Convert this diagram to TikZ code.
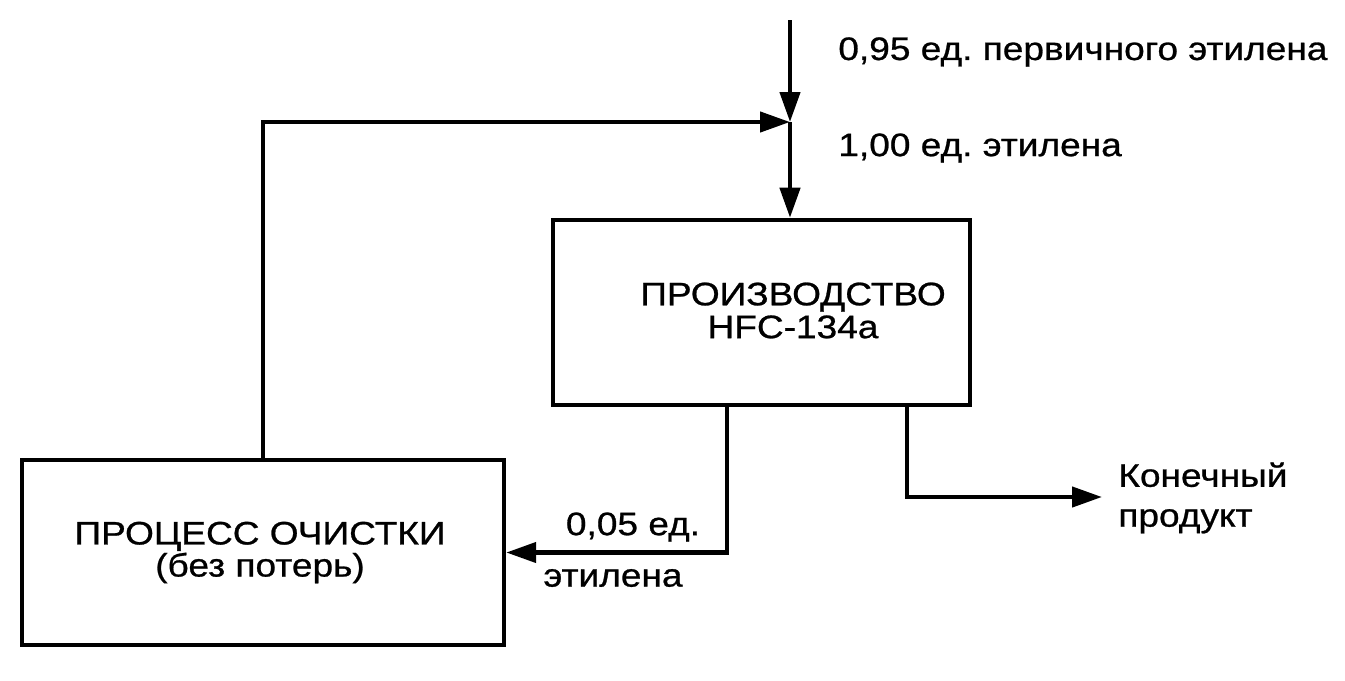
\documentclass[tikz,border=0pt]{standalone}
\usepackage{fontspec}
\setmainfont{Liberation Sans}[FakeStretch=1.14,FakeBold=0.8]
\usepackage{tikz}
\usetikzlibrary{arrows.meta,positioning,calc}
\definecolor{InkBlack}{HTML}{000000}
\frenchspacing
\tikzset{
  flowbox/.style={draw=InkBlack,line width=2.6pt,fill=white,inner sep=0pt,minimum height=3.7cm},
  boxtext/.style={align=center,font=\fontsize{18.5}{18.7}\selectfont,inner sep=0pt},
  flowarrow/.style={-{Triangle[length=0.6cm,width=0.4cm]},line width=2.5pt,draw=InkBlack},
  flowlabel/.style={font=\fontsize{18.5}{22.7}\selectfont,inner sep=0pt,align=left}
}
\begin{document}
\begin{tikzpicture}[x=0.02cm,y=-0.02cm]
\useasboundingbox (0,0) rectangle (1345,680);
% boxes
\node[flowbox,minimum width=8.34cm] (prod) at (761.5,312.5) {};
\node[boxtext] (prodtext) at ($(prod.center)+(31.5,-2)$) {ПРОИЗВОДСТВО\\HFC-134a};
\node[flowbox,minimum width=9.64cm] (clean) at (263,552.5) {};
\node[boxtext,font=\fontsize{18.5}{16}\selectfont] (cleantext) at ($(clean.center)+(-3,0)$) {ПРОЦЕСС ОЧИСТКИ\\(без потерь)};
% feed and recycle
\coordinate (src) at (790,20);
\coordinate (mix) at (790,122);
\draw[flowarrow] (src) -- (mix);
\draw[flowarrow] (mix) -- (mix |- prod.north);
\draw[flowarrow] (clean.north) |- (mix);
\draw[flowarrow] (727,0 |- prod.south) |- (clean.east);
\coordinate (prodout) at (1102,497);
\draw[flowarrow] (907,0 |- prod.south) |- (prodout);
% labels
\node[flowlabel,anchor=west] (feedlbl) at (838,52) {0,95 ед. первичного этилена};
\node[flowlabel,anchor=west] (totallbl) at (838,148) {1,00 ед. этилена};
\node[flowlabel] (recyclbl) at (633,527) {0,05 ед.};
\node[flowlabel] (recyclbl2) at (613,578) {этилена};
\node[flowlabel,anchor=west] (prodlbl) at (1118,498) {Конечный\\продукт};
\end{tikzpicture}
\end{document}
